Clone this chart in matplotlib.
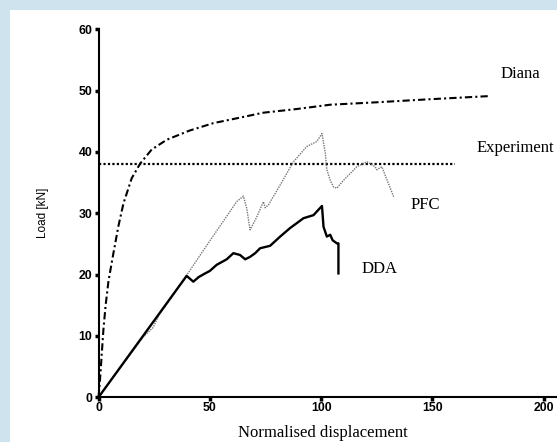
import matplotlib.pyplot as plt
from matplotlib.patches import Rectangle

# Diana (FE) curve
diana_x = [0, 0.7, 2.2, 3.2, 4.5, 6.7, 9, 11.2, 14.9, 18.7, 23.9, 30.7, 41, 51.6, 63.6, 74, 89, 104, 125, 149, 175]
diana_y = [0, 3, 11, 15, 19, 23.5, 28, 31.6, 35.7, 38.1, 40.4, 42, 43.5, 44.7, 45.6, 46.4, 47, 47.7, 48.1, 48.6, 49.1]

# Experiment (peak load)
exp_x = [0, 160]
exp_y = [38.1, 38.1]

# PFC curve
pfc_x = [0, 12, 20, 24.6, 27, 39.6, 50, 59.1, 62.1, 65.1, 66.6, 68.1, 71.1, 74.1, 74.9, 76.4, 81.6, 87.6,
         93.6, 98.1, 100.4, 101.9, 102.6, 104.1, 105.6, 107.1, 110.1, 116.1, 120.6, 124.3, 125, 127.3, 132.6]
pfc_y = [0, 5.9, 9.8, 11.4, 13.3, 19.9, 25.5, 30.3, 31.9, 32.8, 30.8, 27.3, 29.4, 31.9, 30.9, 31.4, 34.6, 38.4,
         40.9, 41.7, 43.0, 39.8, 37.1, 35.4, 34.3, 34.1, 35.4, 37.6, 38.4, 37.6, 37.1, 37.6, 32.7]

# DDA curve
dda_x = [0, 39.6, 42.6, 45, 47.9, 50, 53.1, 57.6, 60.6, 63.6, 65.9, 68.1, 70.4, 72.6, 77.1, 81.6, 86.1,
         92.1, 96.6, 100.4, 101.1, 102.6, 104.1, 105.2, 107.1, 107.8, 107.8]
dda_y = [0, 19.8, 18.85, 19.6, 20.2, 20.6, 21.6, 22.5, 23.5, 23.2, 22.5, 22.9, 23.5, 24.3, 24.7, 26.2, 27.6,
         29.2, 29.7, 31.2, 27.8, 26.2, 26.5, 25.6, 25.1, 25.1, 20.2]

fig = plt.figure(figsize=(5.57, 4.42), dpi=100)
fig.patch.set_facecolor('#cfe3ef')
fig.patches.append(Rectangle((10 / 557, 0), 1 - 10 / 557, 1 - 10 / 442,
                             transform=fig.transFigure, facecolor='white', edgecolor='none', zorder=-5))

ax = fig.add_axes([98.5 / 557, 44.7 / 442, 458.5 / 557, 368 / 442])
ax.set_facecolor('none')
ax.set_zorder(2)

ax.plot(diana_x, diana_y, color='black', lw=1.5, linestyle=(0, (3.5, 1.5, 1, 1.5)), clip_on=False)
ax.plot(exp_x, exp_y, color='black', lw=1.6, linestyle=(0, (1, 1)), clip_on=False)
ax.plot(pfc_x, pfc_y, color='#777777', lw=1.0, linestyle=(0, (1, 0.8)), clip_on=False)
ax.plot(dda_x, dda_y, color='black', lw=1.7, clip_on=False)

ax.text(180.5, 52.7, 'Diana', family='Liberation Serif', fontsize=12, va='center')
ax.text(170, 40.65, 'Experiment', family='Liberation Serif', fontsize=12, va='center')
ax.text(140, 31.35, 'PFC', family='Liberation Serif', fontsize=12, va='center')
ax.text(118.3, 20.9, 'DDA', family='Liberation Serif', fontsize=12, va='center')

ax.set_xlim(0, 206)
ax.set_ylim(0, 60)
ax.set_xticks([0, 50, 100, 150, 200])
ax.set_yticks([0, 10, 20, 30, 40, 50, 60])
for s in ['top', 'right']:
    ax.spines[s].set_visible(False)
ax.spines['left'].set_linewidth(1.5)
ax.spines['bottom'].set_linewidth(1.5)
ax.tick_params(direction='out', length=3, width=2.5)
ax.tick_params(axis='y', pad=1.5)
ax.tick_params(axis='x', pad=0.5)
for lab in ax.get_xticklabels() + ax.get_yticklabels():
    lab.set_family('Liberation Sans')
    lab.set_fontweight('bold')
    lab.set_fontsize(8.8)

ax.set_xlabel('Normalised displacement', family='Liberation Serif', fontsize=12, va='center')
ax.xaxis.set_label_coords(0.4897, -0.097)
ax.set_ylabel('Load [kN]', family='Liberation Sans', fontsize=8.5, va='center')
ax.yaxis.set_label_coords(-0.12, 0.5)

fig.savefig('out.png', dpi=100, facecolor=fig.get_facecolor())
